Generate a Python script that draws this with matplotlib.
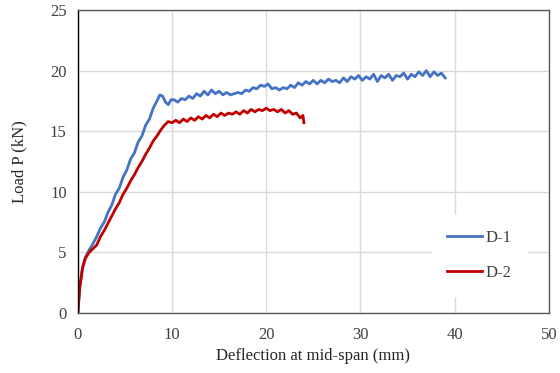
import matplotlib.pyplot as plt

plt.rcParams['font.family'] = ['Liberation Serif', 'DejaVu Serif']

# D-1 (blue)
d1_x = [0, 0.2, 0.5, 0.8, 1.2, 1.6, 2.0, 2.4, 2.8, 3.2, 3.6, 4.0, 4.4, 4.8, 5.2, 5.6,
        6.0, 6.4, 6.8, 7.2, 7.6, 8.0, 8.4, 8.7, 9.0, 9.3, 9.6, 9.9,
        10.2, 10.6, 11.0, 11.4, 11.8, 12.2, 12.6, 13.0, 13.4, 13.8, 14.2, 14.6, 15.0,
        15.4, 15.8, 16.2, 16.6, 17.0, 17.4, 17.8, 18.2, 18.6, 19.0, 19.4, 19.8, 20.2,
        20.6, 21.0, 21.4, 21.8, 22.2, 22.6, 23.0, 23.4, 23.8, 24.2, 24.6, 25.0, 25.4,
        25.8, 26.2, 26.6, 27.0, 27.4, 27.8, 28.2, 28.6, 29.0, 29.4, 29.8, 30.2, 30.6,
        31.0, 31.4, 31.8, 32.2, 32.6, 33.0, 33.4, 33.8, 34.2, 34.6, 35.0, 35.4, 35.8,
        36.2, 36.6, 37.0, 37.4, 37.8, 38.2, 38.6, 39.0]
d1_y = [0, 2.2, 3.8, 4.6, 5.2, 5.7, 6.3, 7.0, 7.5, 8.3, 8.9, 9.8, 10.3, 11.2, 11.8, 12.7,
        13.2, 14.1, 14.6, 15.5, 16.0, 16.9, 17.5, 18.0, 17.9, 17.4, 17.2, 17.6,
        17.6, 17.4, 17.7, 17.6, 17.9, 17.7, 18.1, 17.9, 18.3, 18.0, 18.4, 18.1, 18.3,
        18.0, 18.2, 18.0, 18.1, 18.2, 18.1, 18.4, 18.3, 18.6, 18.5, 18.8, 18.7, 18.9,
        18.5, 18.6, 18.4, 18.6, 18.5, 18.8, 18.6, 19.0, 18.8, 19.1, 18.9, 19.2, 18.9,
        19.2, 19.0, 19.3, 19.1, 19.2, 19.0, 19.4, 19.1, 19.5, 19.3, 19.6, 19.2, 19.5,
        19.3, 19.7, 19.1, 19.6, 19.4, 19.7, 19.2, 19.6, 19.5, 19.8, 19.3, 19.7, 19.5,
        19.9, 19.6, 20.0, 19.5, 19.9, 19.6, 19.8, 19.4]

# D-2 (red)
d2_x = [0, 0.2, 0.5, 0.8, 1.2, 1.6, 2.0, 2.4, 2.8, 3.2, 3.6, 4.0, 4.4, 4.8, 5.2, 5.6,
        6.0, 6.4, 6.8, 7.2, 7.6, 8.0, 8.4, 8.8, 9.2, 9.6, 10.0,
        10.4, 10.8, 11.2, 11.6, 12.0, 12.4, 12.8, 13.2, 13.6, 14.0, 14.4, 14.8, 15.2,
        15.6, 16.0, 16.4, 16.8, 17.2, 17.6, 18.0, 18.4, 18.8, 19.2, 19.6, 20.0, 20.4,
        20.8, 21.2, 21.6, 22.0, 22.4, 22.8, 23.2, 23.6, 23.9, 24.0]
d2_y = [0, 2.0, 3.7, 4.5, 5.0, 5.3, 5.6, 6.3, 6.8, 7.4, 8.0, 8.6, 9.1, 9.8, 10.3, 10.9,
        11.4, 12.0, 12.5, 13.1, 13.6, 14.2, 14.6, 15.1, 15.5, 15.8, 15.7,
        15.9, 15.7, 16.0, 15.8, 16.1, 15.9, 16.2, 16.0, 16.3, 16.1, 16.4, 16.2, 16.5,
        16.3, 16.5, 16.4, 16.6, 16.4, 16.7, 16.5, 16.8, 16.6, 16.8, 16.7, 16.9, 16.7,
        16.8, 16.6, 16.8, 16.5, 16.7, 16.4, 16.5, 16.1, 16.3, 15.7]

fig = plt.figure(figsize=(5.6, 3.73), dpi=100)
ax = fig.add_axes([0.139, 0.161, 0.841, 0.812])

ax.plot(d1_x, d1_y, color='#4472C4', lw=2.0, label='D-1')
ax.plot(d2_x, d2_y, color='#C00000', lw=2.0, label='D-2')

ax.set_xlim(0, 50)
ax.set_ylim(0, 25)
ax.set_xticks([0, 10, 20, 30, 40, 50])
ax.set_yticks([0, 5, 10, 15, 20, 25])
ax.grid(True, color='#D9D9D9', lw=1)
ax.set_axisbelow(True)
for s in ax.spines.values():
    s.set_color('#595959')
    s.set_linewidth(1)
ax.spines['left'].set_color('black')
ax.tick_params(length=0, labelsize=12, labelcolor='#404040')
ax.tick_params(axis='x', pad=10)
ax.tick_params(axis='y', pad=8)

ax.set_xlabel('Deflection at mid-span (mm)', fontsize=12, color='#262626', labelpad=4)
ax.set_ylabel('Load P (kN)', fontsize=12, color='#262626', labelpad=16)

leg = ax.legend(loc='center', bbox_to_anchor=(0.853, 0.19), frameon=True,
                fontsize=12, labelspacing=1.1, handlelength=2.1, handletextpad=0.2,
                borderpad=0.9, fancybox=False, edgecolor='white', framealpha=1)
for t in leg.get_texts():
    t.set_color('#404040')

fig.savefig('out.png', dpi=100)
